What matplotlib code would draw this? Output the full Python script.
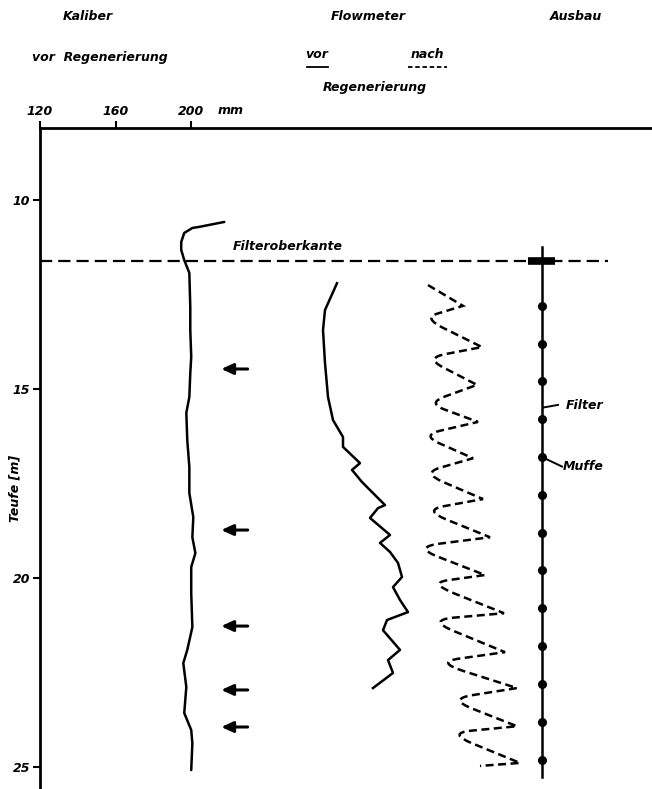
import matplotlib
matplotlib.use("Agg")
import matplotlib.pyplot as plt
from matplotlib.path import Path
from matplotlib.patches import PathPatch
from matplotlib.lines import Line2D

# Kaliber vor Regenerierung: depth [m], diameter [mm]
cal_depth = [10.58, 10.71, 10.74, 10.87, 11.11, 11.32, 11.59, 11.93, 12.83, 13.44,
             14.15, 14.58, 15.21, 15.63, 16.35, 17.06, 17.75, 18.39, 18.92, 19.34,
             19.71, 20.40, 21.30, 21.90, 22.25, 22.88, 23.57, 24.02, 24.37, 25.08]
cal_mm = [217.6, 204.4, 200.7, 196.4, 194.8, 194.8, 196.4, 199.1, 199.6, 199.6,
          200.1, 199.6, 199.1, 197.5, 198.0, 199.1, 199.1, 201.2, 200.7, 202.3,
          200.1, 200.1, 200.7, 198.0, 195.9, 197.5, 196.4, 200.1, 200.7, 200.1]

# Zuflusspfeile (Teufe)
arrow_depth = [14.47, 18.73, 21.27, 22.96, 23.94]

# Flowmeter vor Regenerierung (relative units)
vor_depth = [12.20, 12.91, 13.44, 14.31, 15.21, 15.82, 16.27, 16.53, 16.96, 17.14,
             17.46, 18.07, 18.15, 18.41, 18.86, 19.07, 19.31, 19.60, 19.97, 20.24,
             20.58, 20.90, 21.11, 21.38, 21.90, 22.17, 22.51, 22.91]
vor_val = [297, 285, 283, 285, 288, 293, 303, 303, 320, 312,
           322, 345, 338, 330, 350, 340, 350, 358, 362, 353,
           360, 368, 347, 343, 360, 348, 353, 333]

# Flowmeter nach Regenerierung (turning points of the trace)
nach_depth = [12.25, 12.80, 13.12, 13.89, 14.18, 14.89, 15.37, 15.87, 16.22, 16.83,
              17.22, 17.91, 18.20, 18.92, 19.18, 19.92, 20.13, 20.93, 21.11, 21.96,
              22.22, 22.91, 23.20, 23.92, 24.10, 24.89, 24.97]
nach_val = [388, 423, 383, 442, 385, 437, 387, 438, 381, 433,
            382, 443, 383, 450, 373, 445, 388, 464, 387, 465,
            395, 477, 408, 477, 407, 480, 440]

# Ausbau
muffe_depth = [12.8, 13.8, 14.8, 15.8, 16.8, 17.8, 18.8, 19.8, 20.8, 21.8, 22.8, 23.8, 24.8]
pipe_top, pipe_bottom = 11.25, 25.26
filter_top = 11.61

W, H = 652, 789
font = dict(fontsize=9, fontweight="bold", fontstyle="italic", family="DejaVu Sans")


def fx(x):
    return x / W


def fy(y):
    return 1 - y / H


fig = plt.figure(figsize=(W / 100, H / 100), dpi=100)
ax = fig.add_axes([fx(40), 0, fx(612), fy(128)])
ax.set_xlim(120, 120 + 612 / 1.888)
ax.set_ylim(25.58, 8.095)

for s in ["right", "bottom"]:
    ax.spines[s].set_visible(False)
for s in ["left", "top"]:
    ax.spines[s].set_linewidth(2)
ax.xaxis.tick_top()
ax.set_xticks([120, 160, 200])
ax.set_xticklabels(["120", "160", "200"], **font)
ax.set_yticks([10, 15, 20, 25])
ax.set_yticklabels(["10", "15", "20", "25"], **font)
ax.tick_params(direction="out", length=5, width=1.5, pad=2)

ax.plot(cal_mm, cal_depth, color="k", lw=1.8, solid_capstyle="round")
for d in arrow_depth:
    ax.annotate("", xy=(216, d), xytext=(230, d),
                arrowprops=dict(arrowstyle="-|>,head_length=0.7,head_width=0.32",
                                lw=2.2, color="k", shrinkA=0, shrinkB=0))

ax.axhline(filter_top, xmin=0, xmax=(608 - 40) / 612, color="k", lw=1.6,
           linestyle=(0, (5.5, 2.7)))

# second axes for flowmeter and Ausbau columns
ax2 = fig.add_axes(ax.get_position(), sharey=ax, frameon=False)
ax2.set_xlim(0, 612)
ax2.axis("off")

ax2.plot(vor_val, vor_depth, color="k", lw=1.8, solid_joinstyle="round")

# nach: straight to the right-hand points, rounded turns at the left
verts = [(nach_val[0], nach_depth[0])]
codes = [Path.MOVETO]
for i in range(1, len(nach_val) - 1):
    x0, y0 = nach_val[i - 1], nach_depth[i - 1]
    x1, y1 = nach_val[i], nach_depth[i]
    x2, y2 = nach_val[i + 1], nach_depth[i + 1]
    if x1 < x0:
        verts += [(x1 + 0.35 * (x0 - x1), y1 + 0.35 * (y0 - y1)), (x1, y1),
                  (x1 + 0.35 * (x2 - x1), y1 + 0.35 * (y2 - y1))]
        codes += [Path.LINETO, Path.CURVE3, Path.CURVE3]
    else:
        verts.append((x1, y1))
        codes.append(Path.LINETO)
verts.append((nach_val[-1], nach_depth[-1]))
codes.append(Path.LINETO)
ax2.add_patch(PathPatch(Path(verts, codes), fill=False, lw=1.8, ec="k",
                        linestyle=(0, (3.2, 1.8)), capstyle="butt"))

ax2.plot([502, 502], [pipe_top, pipe_bottom], color="k", lw=1.8)
ax2.plot(len(muffe_depth) * [502], muffe_depth, "o", color="k", ms=5.5)
ax2.plot([488, 515], [filter_top, filter_top], color="k", lw=5.5, solid_capstyle="butt")

ax2.plot([503, 518], [15.49, 15.42], color="k", lw=1.4)
ax2.text(526, 15.43, "Filter", va="center", ha="left", **font)
ax2.plot([502, 522], [muffe_depth[4], 17.05], color="k", lw=1.4)
ax2.text(523, 17.05, "Muffe", va="center", ha="left", **font)
ax2.text(193, 11.22, "Filteroberkante", va="center", ha="left", **font)

# headings
fig.text(fx(88), fy(17), "Kaliber", ha="center", va="center", **font)
fig.text(fx(368), fy(17), "Flowmeter", ha="center", va="center", **font)
fig.text(fx(576), fy(17), "Ausbau", ha="center", va="center", **font)
fig.text(fx(100), fy(57), "vor  Regenerierung", ha="center", va="center", **font)
fig.text(fx(317), fy(55), "vor", ha="center", va="center", **font)
fig.text(fx(427), fy(55), "nach", ha="center", va="center", **font)
fig.text(fx(375), fy(87), "Regenerierung", ha="center", va="center", **font)
fig.text(fx(218), fy(111), "mm", ha="left", va="center", **font)
fig.text(fx(15), fy(488), "Teufe [m]", ha="center", va="center", rotation=90, **font)
fig.add_artist(Line2D([fx(307), fx(328)], [fy(67), fy(67)], color="k", lw=1.3,
                      transform=fig.transFigure))
fig.add_artist(Line2D([fx(408), fx(447)], [fy(67), fy(67)], color="k", lw=1.3,
                      linestyle=(0, (2.5, 1.5)), transform=fig.transFigure))

fig.savefig("out.png", dpi=100)
